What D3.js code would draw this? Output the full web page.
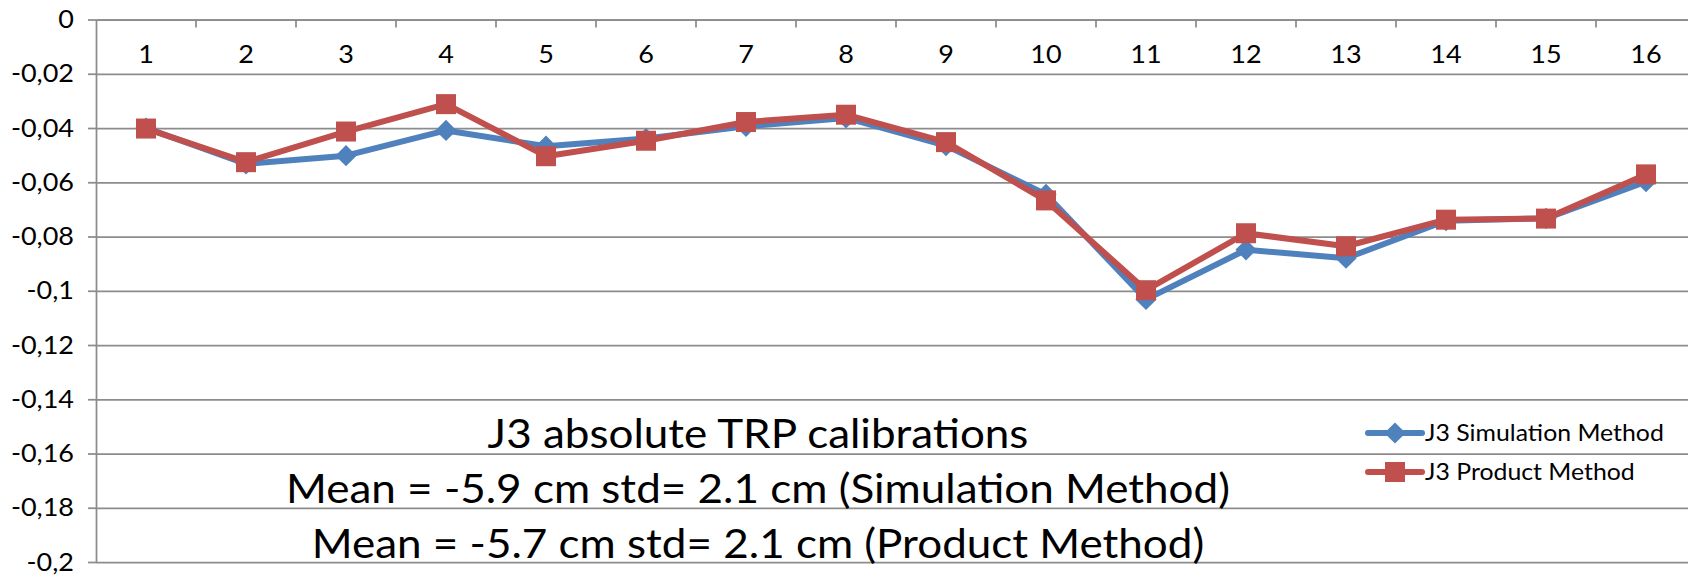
<!DOCTYPE html>
<html>
<head>
<meta charset="utf-8">
<script src="https://cdn.jsdelivr.net/npm/d3@7"></script>
<style>
  body { margin: 0; background: #fff; }
  svg { display: block; font-family: Lato, "Liberation Sans", sans-serif; }
</style>
</head>
<body>
<script>
// data
const categories = ["1", "2", "3", "4", "5", "6", "7", "8", "9", "10", "11", "12", "13", "14", "15", "16"];
const simulation = [-0.0400, -0.0532, -0.0502, -0.0409, -0.0467, -0.0439, -0.0394, -0.0363,
                    -0.0465, -0.0645, -0.1032, -0.0849, -0.0880, -0.0742, -0.0733, -0.0598];
const product = [-0.0402, -0.0526, -0.0413, -0.0312, -0.0504, -0.0447, -0.0378, -0.0351,
                 -0.0452, -0.0667, -0.0998, -0.0788, -0.0836, -0.0738, -0.0734, -0.0571];
const yTicks = [0, -0.02, -0.04, -0.06, -0.08, -0.1, -0.12, -0.14, -0.16, -0.18, -0.2];
const yTickLabels = ["0", "-0,02", "-0,04", "-0,06", "-0,08", "-0,1", "-0,12", "-0,14", "-0,16", "-0,18", "-0,2"];
const seriesNames = ["J3 Simulation Method", "J3 Product Method"];
const titleLines = [
  "J3 absolute TRP calibrations",
  "Mean = -5.9 cm std= 2.1 cm (Simulation Method)",
  "Mean = -5.7 cm std= 2.1 cm (Product Method)"
];

const width = 1688, height = 575;
const margin = {top: 19.5, left: 96, bottom: 13};
const plotRight = 1696; // the last band runs a little past the window
const gridColor = "#8c8c8c";
const sx = 1.08; // the reference text is slightly widened

const svg = d3.select("body").append("svg")
  .attr("width", width)
  .attr("height", height);

const x = d3.scaleBand().domain(categories).range([margin.left, plotRight]);
const y = d3.scaleLinear().domain([-0.2, 0]).range([height - margin.bottom, margin.top]);

// horizontal gridlines
svg.append("g")
  .attr("transform", `translate(${margin.left},0)`)
  .call(d3.axisLeft(y).tickValues(yTicks).tickFormat("").tickSize(-(plotRight - margin.left)))
  .call(g => g.select(".domain").remove())
  .call(g => g.selectAll("line").attr("stroke", gridColor).attr("stroke-width", 1.75));

// y axis
svg.append("g")
  .attr("transform", `translate(${margin.left},0)`)
  .call(d3.axisLeft(y).tickValues(yTicks).tickFormat((d, i) => yTickLabels[i])
    .tickSize(8).tickSizeOuter(0).tickPadding(18))
  .attr("font-size", 25)
  .attr("font-family", null)
  .call(g => g.selectAll("line, .domain").attr("stroke", gridColor).attr("stroke-width", 1.75))
  .call(g => g.selectAll("text")
    .attr("fill", "#000")
    .attr("x", -22 / sx)
    .attr("transform", `scale(${sx},1)`));

// category axis along the top (value 0)
svg.append("g")
  .attr("transform", `translate(0,${margin.top})`)
  .call(d3.axisBottom(x).tickSize(0).tickSizeOuter(0).tickPadding(26))
  .attr("font-size", 25)
  .attr("font-family", null)
  .call(g => g.select(".domain").attr("stroke", gridColor).attr("stroke-width", 1.75))
  .call(g => g.selectAll("text")
    .attr("fill", "#000")
    .attr("transform", `scale(${sx},1)`));

// tick marks between categories
svg.append("g").selectAll("line")
  .data(categories)
  .join("line")
  .attr("x1", d => x(d) + x.bandwidth())
  .attr("x2", d => x(d) + x.bandwidth())
  .attr("y1", margin.top)
  .attr("y2", margin.top + 8)
  .attr("stroke", gridColor)
  .attr("stroke-width", 1.75);

const series = [
  {name: seriesNames[0], values: simulation, color: "#4f81bd", marker: "diamond"},
  {name: seriesNames[1], values: product, color: "#c0504d", marker: "square"}
];

const cx = i => x(categories[i]) + x.bandwidth() / 2;
const line = d3.line().x((d, i) => cx(i)).y(d => y(d));

function drawMarker(sel, s) {
  if (s.marker === "square") {
    sel.append("rect")
      .attr("x", -10).attr("y", -10)
      .attr("width", 20).attr("height", 20)
      .attr("fill", s.color);
  } else {
    sel.append("rect")
      .attr("x", -7.5).attr("y", -7.5)
      .attr("width", 15).attr("height", 15)
      .attr("transform", "rotate(45)")
      .attr("fill", s.color);
  }
}

series.forEach(s => {
  const g = svg.append("g");
  g.append("path")
    .datum(s.values)
    .attr("d", line)
    .attr("fill", "none")
    .attr("stroke", s.color)
    .attr("stroke-width", 6)
    .attr("stroke-linejoin", "round");
  g.selectAll("g.pt")
    .data(s.values)
    .join("g")
    .attr("class", "pt")
    .attr("transform", (d, i) => `translate(${cx(i)},${y(d)})`)
    .each(function () { drawMarker(d3.select(this), s); });
});

// legend
const legend = svg.append("g");
series.forEach((s, i) => {
  const row = legend.append("g").attr("transform", `translate(1368,${433 + i * 39})`);
  row.append("line")
    .attr("x1", 0).attr("x2", 54)
    .attr("stroke", s.color).attr("stroke-width", 6).attr("stroke-linecap", "round");
  drawMarker(row.append("g").attr("transform", "translate(27,0)"), s);
  row.append("g").attr("transform", `translate(57,0) scale(${sx},1)`)
    .append("text")
    .attr("dy", "0.35em")
    .attr("font-size", 23)
    .text(s.name);
});

// title block inside the plot
const title = svg.append("g");
titleLines.forEach((t, i) => {
  title.append("g")
    .attr("transform", `translate(758,${448 + i * 55}) scale(1.1,1)`)
    .append("text")
    .attr("text-anchor", "middle")
    .attr("font-size", 40)
    .text(t);
});
</script>
</body>
</html>
